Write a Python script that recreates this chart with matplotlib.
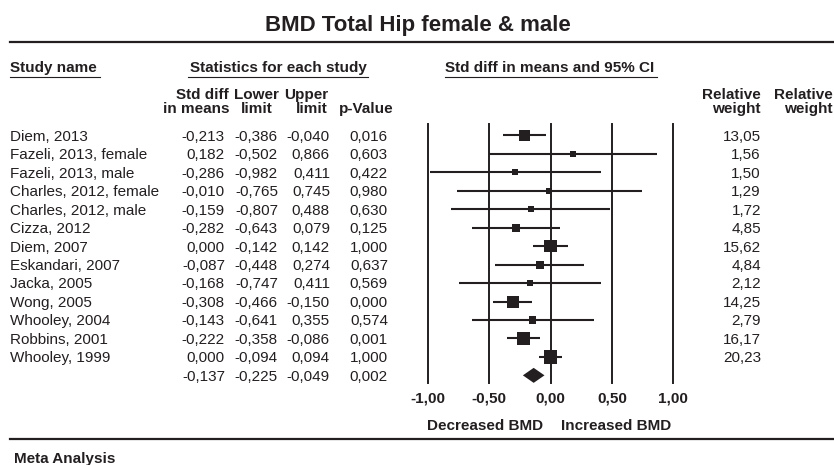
import matplotlib
matplotlib.use("Agg")
from matplotlib import pyplot as plt
import numpy as np

plt.rcParams["font.family"] = ["Liberation Sans", "DejaVu Sans"]

# data
studies = ["Diem, 2013", "Fazeli, 2013, female", "Fazeli, 2013, male",
           "Charles, 2012, female", "Charles, 2012, male", "Cizza, 2012",
           "Diem, 2007", "Eskandari, 2007", "Jacka, 2005", "Wong, 2005",
           "Whooley, 2004", "Robbins, 2001", "Whooley, 1999"]
smd = [-0.213, 0.182, -0.286, -0.010, -0.159, -0.282, 0.000, -0.087,
       -0.168, -0.308, -0.143, -0.222, 0.000]
lower = [-0.386, -0.502, -0.982, -0.765, -0.807, -0.643, -0.142, -0.448,
         -0.747, -0.466, -0.641, -0.358, -0.094]
upper = [-0.040, 0.866, 0.411, 0.745, 0.488, 0.079, 0.142, 0.274,
         0.411, -0.150, 0.355, -0.086, 0.094]
pvals = [0.016, 0.603, 0.422, 0.980, 0.630, 0.125, 1.000, 0.637,
         0.569, 0.000, 0.574, 0.001, 1.000]
weights = [13.05, 1.56, 1.50, 1.29, 1.72, 4.85, 15.62, 4.84,
           2.12, 14.25, 2.79, 16.17, 20.23]
pooled = [-0.137, -0.225, -0.049, 0.002]
ticks = [-1.0, -0.5, 0.0, 0.5, 1.0]

ink = "#231f20"
W, H = 834, 465


def fmt(v, n=3):
    return f"{v:.{n}f}".replace(".", ",")


fig = plt.figure(figsize=(W / 100, H / 100), dpi=100)

# background axes in pixel units for the table text
bg = fig.add_axes([0, 0, 1, 1])
bg.set_xlim(0, W)
bg.set_ylim(H, 0)
bg.axis("off")

bg.text(418, 30.5, "BMD Total Hip female & male", ha="center", va="baseline",
        fontsize=16, fontweight="bold", color=ink)
bg.plot([10, W], [41.7, 41.7], color=ink, lw=1.6)

hdr = dict(va="baseline", fontsize=11, fontweight="bold", color=ink)
bg.text(10, 72, "Study name", ha="left", **hdr)
bg.plot([10, 100], [77, 77], color=ink, lw=0.8)
bg.text(278, 72, "Statistics for each study", ha="center", **hdr)
bg.plot([188, 368], [77, 77], color=ink, lw=0.8)
bg.text(445, 72, "Std diff in means and 95% CI", ha="left", **hdr)
bg.plot([445, 657], [77, 77], color=ink, lw=0.8)

bg.text(229, 98.5, "Std diff", ha="right", **hdr)
bg.text(230, 113, "in means", ha="right", **hdr)
bg.text(256, 98.5, "Lower", ha="center", **hdr)
bg.text(257, 113, "limit", ha="center", **hdr)
bg.text(328, 98.5, "Upper", ha="right", **hdr)
bg.text(328, 113, "limit", ha="right", **hdr)
bg.text(394, 113, "p-Value", ha="right", **hdr)
bg.text(761, 98.5, "Relative", ha="right", **hdr)
bg.text(761, 113, "weight", ha="right", **hdr)
bg.text(833, 98.5, "Relative", ha="right", **hdr)
bg.text(833, 113, "weight", ha="right", **hdr)

row0, step = 135.5, 18.45
body = dict(va="baseline", fontsize=11, color=ink)
rows = list(zip(smd, lower, upper, pvals)) + [tuple(pooled)]
for i, (e, lo, hi, p) in enumerate(rows):
    yb = row0 + step * i + 5.3
    if i < len(studies):
        bg.text(10, yb, studies[i], ha="left", **body)
        bg.text(761, yb, fmt(weights[i], 2), ha="right", **body)
    bg.text(225, yb, fmt(e), ha="right", **body)
    bg.text(278, yb, fmt(lo), ha="right", **body)
    bg.text(330, yb, fmt(hi), ha="right", **body)
    bg.text(388, yb, fmt(p), ha="right", **body)

bg.text(543, 430, "Decreased BMD", ha="right", **hdr)
bg.text(561, 430, "Increased BMD", ha="left", **hdr)
bg.plot([10, W], [439, 439], color=ink, lw=1.6)
bg.text(14, 463, "Meta Analysis", ha="left", **hdr)

# forest plot axes
x0, x1 = 427.7, 673.3
ytop, ybot = 124.3, 383.3
ax = fig.add_axes([x0 / W, 1 - ybot / H, (x1 - x0) / W, (ybot - ytop) / H])
ax.set_xlim(-1, 1)
ax.set_ylim((ybot - row0) / step, (ytop - row0) / step)
for s in ax.spines.values():
    s.set_visible(False)
ax.patch.set_alpha(0)
ax.set_yticks([])
ax.set_xticks(ticks)
ax.set_xticklabels([fmt(t, 2) for t in ticks], fontsize=11,
                   fontweight="bold", color=ink)
ax.tick_params(axis="x", length=0, pad=6)

for t in ticks:
    ax.axvline(t, color=ink, lw=1.4, clip_on=False)

ys = np.arange(len(studies))
ax.hlines(ys, lower, upper, color=ink, lw=1.5, zorder=3)
side_px = 3 + 2.4 * np.sqrt(weights)
ax.scatter(smd, ys, marker="s", s=(side_px * 0.72) ** 2, color=ink,
           linewidths=0, zorder=4)

yd = len(studies)
h = 7.5 / step
ax.fill([pooled[1], pooled[0], pooled[2], pooled[0]],
        [yd, yd - h, yd, yd + h], color=ink, lw=0, zorder=4)

fig.savefig("out.png", dpi=100)
